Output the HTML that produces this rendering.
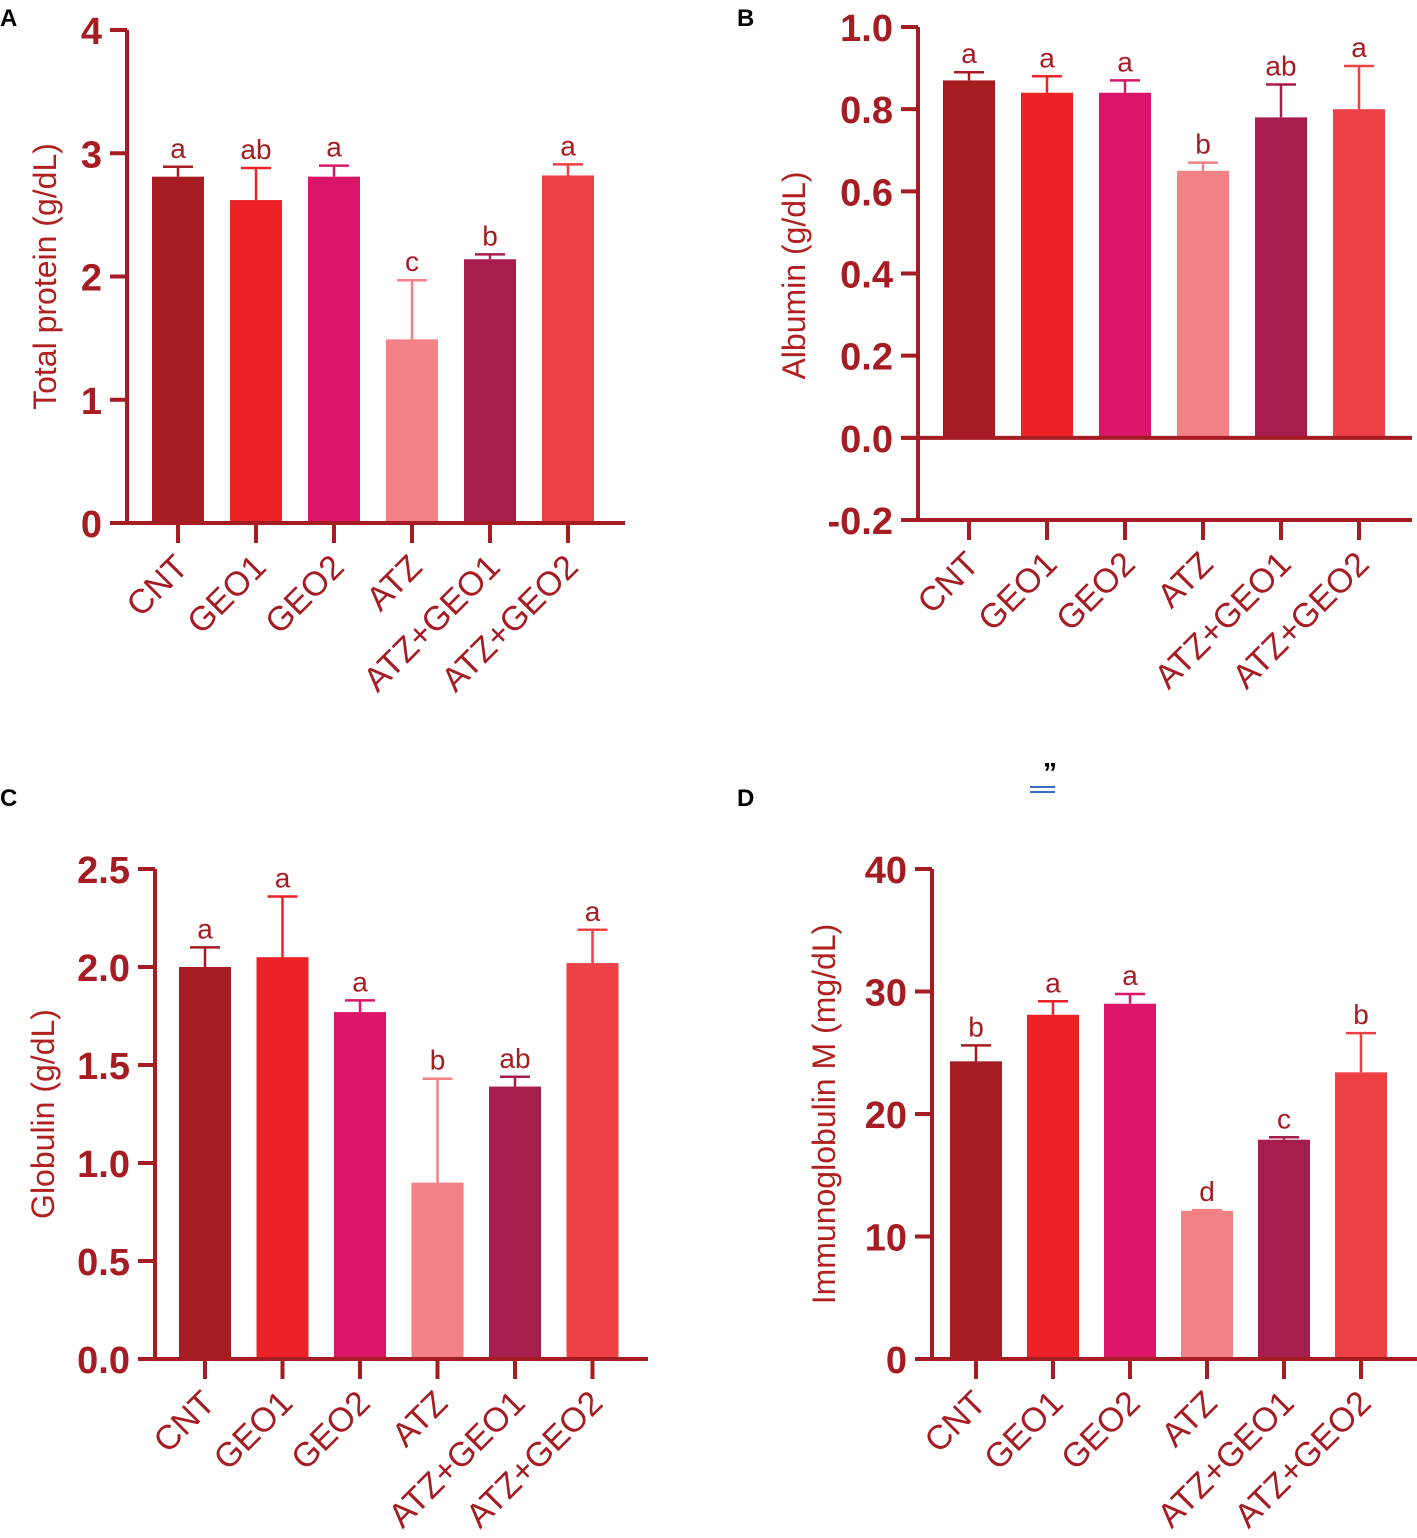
<!DOCTYPE html>
<html><head><meta charset="utf-8"><style>
html,body{margin:0;padding:0;background:#fff;}
svg{display:block;font-family:"Liberation Sans",Arial,sans-serif;}
</style></head><body>
<svg id="fig" width="1417" height="1538" viewBox="0 0 1417 1538">
<text x="0" y="26" font-size="24" font-weight="bold" fill="#000">A</text>
<text x="737" y="26" font-size="24" font-weight="bold" fill="#000">B</text>
<text x="0" y="806" font-size="24" font-weight="bold" fill="#000">C</text>
<text x="737" y="806" font-size="24" font-weight="bold" fill="#000">D</text>
<text x="1043" y="782" font-size="28" font-weight="bold" fill="#000">”</text>
<line x1="1030" y1="787" x2="1055" y2="787" stroke="#3b6cc4" stroke-width="2"/>
<line x1="1030" y1="792" x2="1055" y2="792" stroke="#3b6cc4" stroke-width="2"/>
</svg>
<script>
const categories = ["CNT","GEO1","GEO2","ATZ","ATZ+GEO1","ATZ+GEO2"];
const colors = ["#a51c22","#ec2226","#db166a","#f38287","#a71d4f","#ee4146"];
const totalProtein = [2.81,2.62,2.81,1.49,2.14,2.82];
const totalProteinErr = [0.08,0.26,0.09,0.48,0.04,0.09];
const totalProteinSig = ["a","ab","a","c","b","a"];
const totalProteinTicks = ["0","1","2","3","4"];
const albumin = [0.87,0.84,0.84,0.65,0.78,0.80];
const albuminErr = [0.02,0.04,0.03,0.02,0.08,0.105];
const albuminSig = ["a","a","a","b","ab","a"];
const albuminTicks = ["-0.2","0.0","0.2","0.4","0.6","0.8","1.0"];
const globulin = [2.00,2.05,1.77,0.90,1.39,2.02];
const globulinErr = [0.10,0.31,0.06,0.53,0.05,0.17];
const globulinSig = ["a","a","a","b","ab","a"];
const globulinTicks = ["0.0","0.5","1.0","1.5","2.0","2.5"];
const igm = [24.3,28.1,29.0,12.1,17.9,23.4];
const igmErr = [1.3,1.1,0.8,0.05,0.2,3.2];
const igmSig = ["b","a","a","d","c","b"];
const igmTicks = ["0","10","20","30","40"];

const NS = "http://www.w3.org/2000/svg";
const svg = document.getElementById('fig');
const AX = "#a51c22";
function mk(tag, attrs, parent){const e=document.createElementNS(NS,tag);for(const k in attrs)e.setAttribute(k,attrs[k]);(parent||svg).appendChild(e);return e;}

function panel(p){
  const g = mk('g',{});
  
  
  const ys = v => p.yTop + (p.max - v) / (p.max - p.min) * (p.yBot - p.yTop);
  const xs = i => p.x0 + i * p.step;
  const y0 = ys(0);
  p.values.forEach((v,i)=>{
    const r = mk('rect',{x:xs(i)-26,y:ys(v),width:52,height:y0-ys(v),fill:colors[i]},g);
    
    
    const top = ys(v + p.err[i]);
    const e = mk('path',{d:`M${xs(i)} ${ys(v)}V${top}M${xs(i)-15} ${top}H${xs(i)+15}`,stroke:colors[i],'stroke-width':2.5,fill:'none'},g);
    
    
    const t = mk('text',{x:xs(i),y:top-9,'text-anchor':'middle','font-size':28,fill:AX},g);
    t.textContent = p.sig[i];
    
    
  });
  const ya = mk('line',{x1:p.axX,y1:p.yTop,x2:p.axX,y2:p.yBot+2,stroke:AX,'stroke-width':4},g);
  
  
  p.ticks.forEach(tk=>{
    const v = parseFloat(tk), y = ys(v);
    mk('line',{x1:p.axX-17,y1:y,x2:p.axX,y2:y,stroke:AX,'stroke-width':4},g);
    const t = mk('text',{x:p.axX-25,y:y+14,'text-anchor':'end','font-size':38,'font-weight':'bold',fill:AX},g);
    t.textContent = tk;
    
    
  });
  const xa = mk('line',{x1:p.axX-15,y1:y0,x2:p.xEnd,y2:y0,stroke:AX,'stroke-width':4},g);
  
  
  if (p.min < 0) mk('line',{x1:p.axX-15,y1:p.yBot,x2:p.xEnd,y2:p.yBot,stroke:AX,'stroke-width':4},g);
  categories.forEach((c,i)=>{
    mk('line',{x1:xs(i),y1:p.yBot,x2:xs(i),y2:p.yBot+20,stroke:AX,'stroke-width':4},g);
    const ax = xs(i)+12, ay = p.yBot+46;
    const t = mk('text',{x:ax,y:ay,'text-anchor':'end','font-size':34,fill:AX,transform:`rotate(-45 ${ax} ${ay})`},g);
    t.textContent = c;
    
    
  });
  const cy = (p.yTop + p.yBot)/2 + (p.titleShift||0);
  const tt = mk('text',{x:p.titleX,y:cy,'text-anchor':'middle','font-size':32,fill:"#b0201f",transform:`rotate(-90 ${p.titleX} ${cy})`},g);
  tt.textContent = p.title;
  
  
}
panel({name:'panel-a-total-protein',values:totalProtein,err:totalProteinErr,sig:totalProteinSig,ticks:totalProteinTicks,min:0,max:4,yTop:30,yBot:523,axX:127,x0:178,step:78,xEnd:625,titleX:56,title:"Total protein (g/dL)",titleShift:0});
panel({name:'panel-b-albumin',values:albumin,err:albuminErr,sig:albuminSig,ticks:albuminTicks,min:-0.2,max:1.0,yTop:27,yBot:520,axX:918,x0:969,step:78,xEnd:1412,titleX:805,title:"Albumin (g/dL)",titleShift:2});
panel({name:'panel-c-globulin',values:globulin,err:globulinErr,sig:globulinSig,ticks:globulinTicks,min:0,max:2.5,yTop:869,yBot:1359,axX:155,x0:205,step:77.5,xEnd:648,titleX:54,title:"Globulin (g/dL)",titleShift:0});
panel({name:'panel-d-immunoglobulin-m',values:igm,err:igmErr,sig:igmSig,ticks:igmTicks,min:0,max:40,yTop:869,yBot:1359,axX:932,x0:976,step:77,xEnd:1417,titleX:835,title:"Immunoglobulin M (mg/dL)",titleShift:0});
</script>
</body></html>
